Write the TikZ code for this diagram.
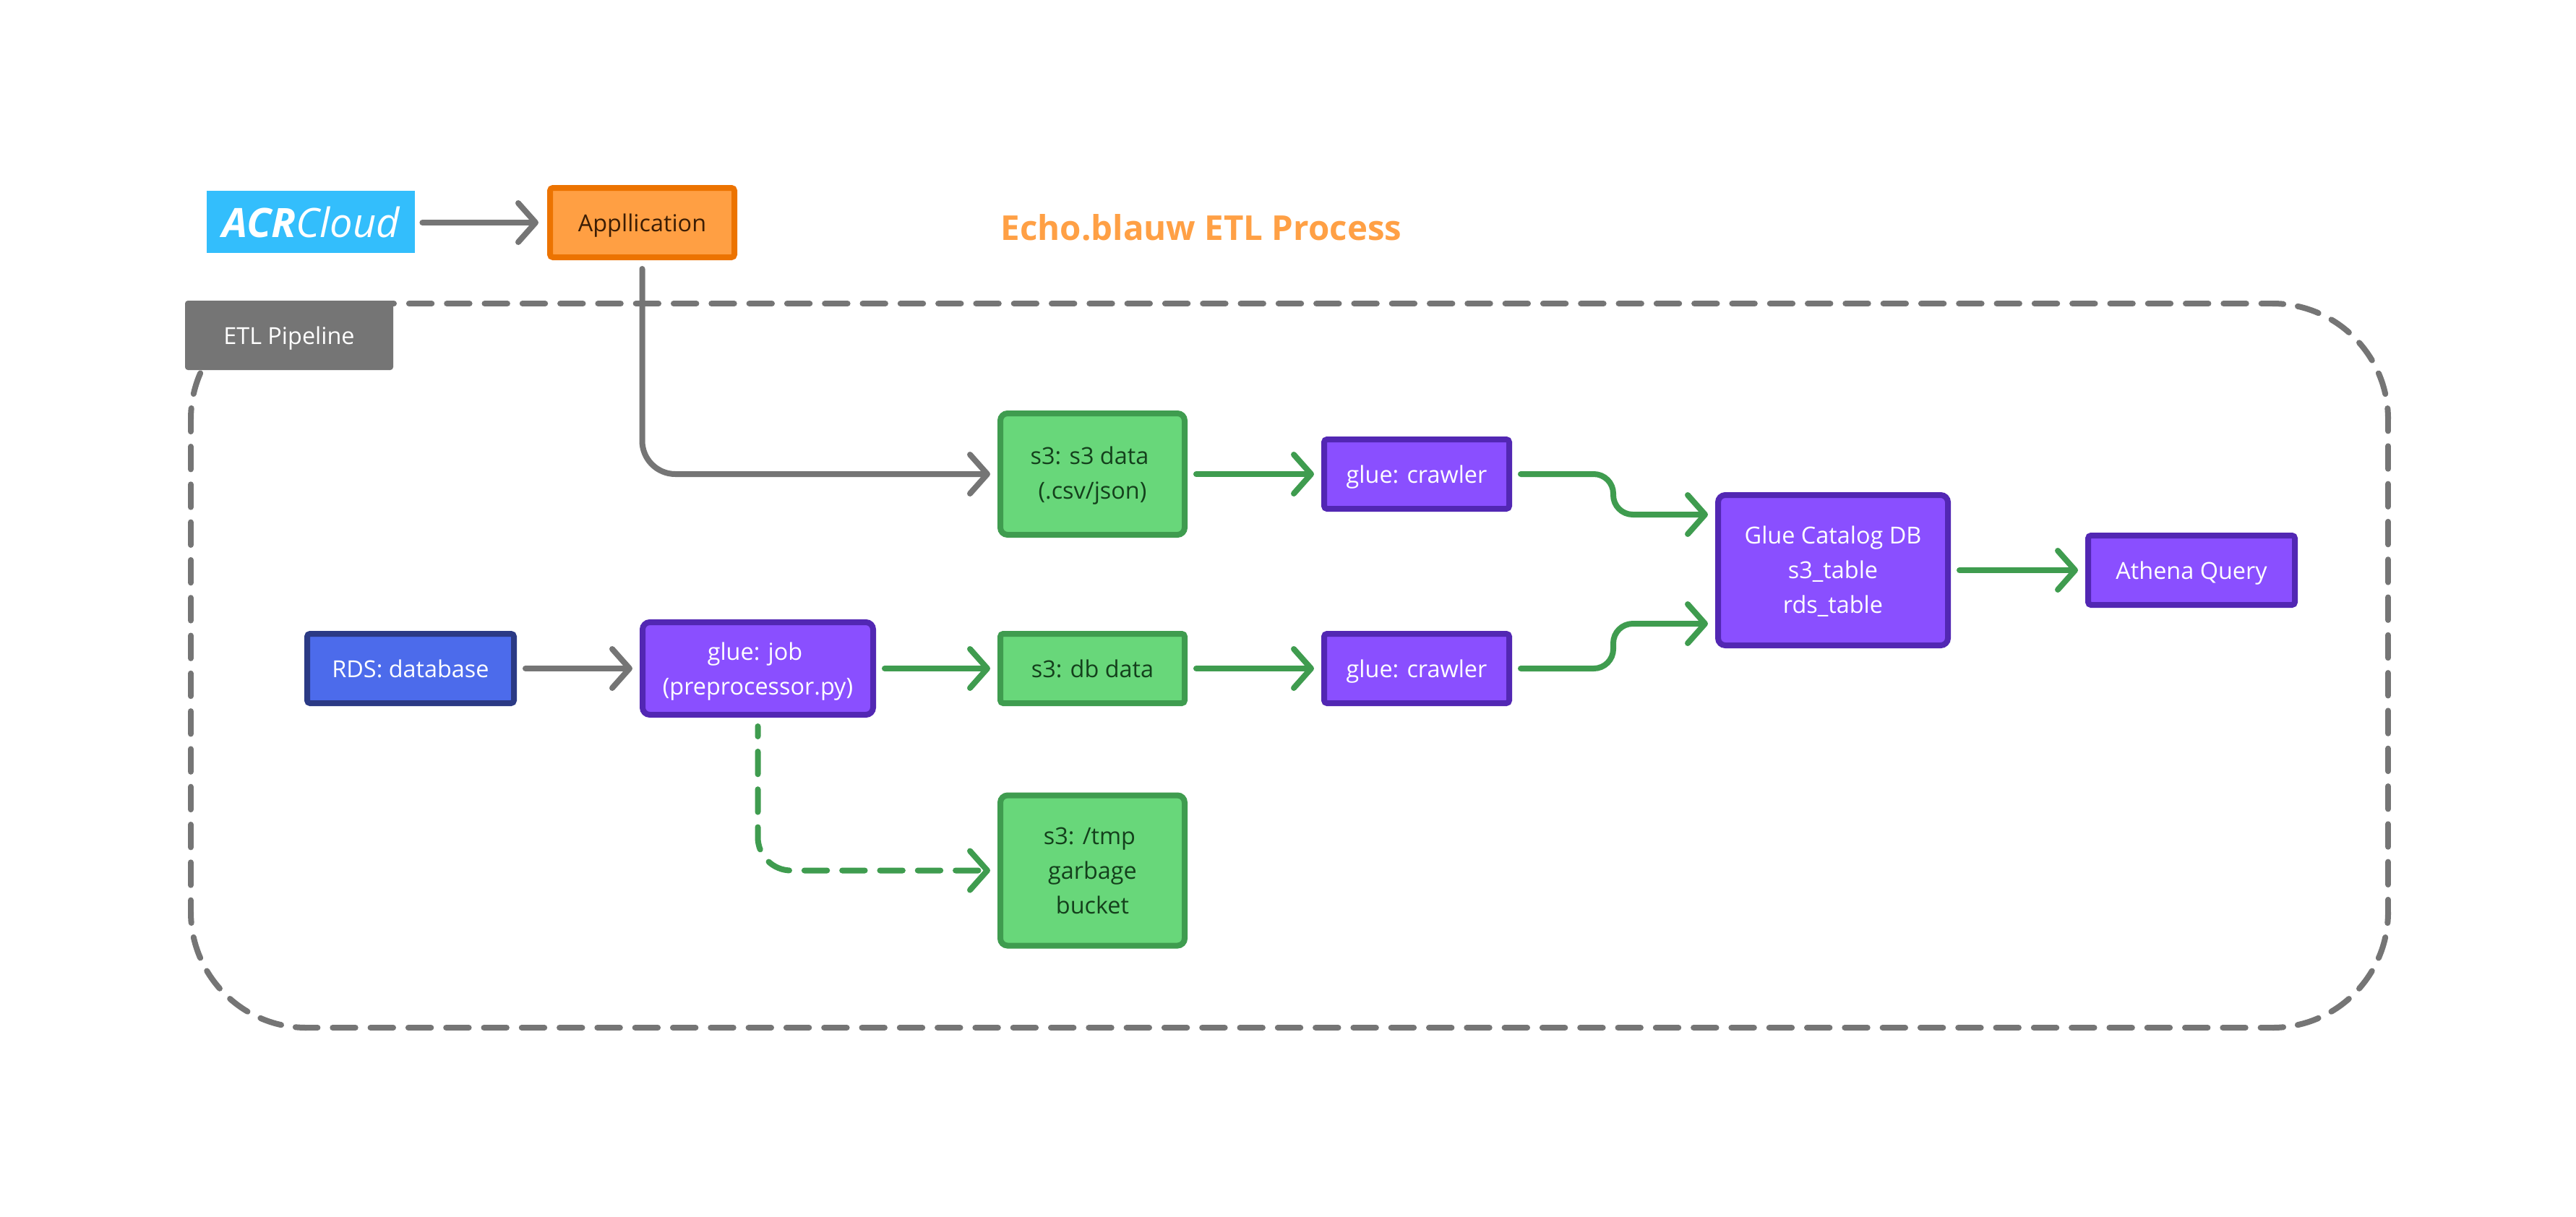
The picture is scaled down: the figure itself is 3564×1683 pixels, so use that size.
\documentclass[tikz,border=0pt]{standalone}
\usepackage{fontspec}
\setmainfont{Open Sans}
\usetikzlibrary{arrows.meta,calc}
\definecolor{gline}{HTML}{757575}
\definecolor{orfill}{HTML}{FF9F43}
\definecolor{orline}{HTML}{EC7300}
\definecolor{ortext}{HTML}{3B1D05}
\definecolor{grfill}{HTML}{68D77A}
\definecolor{grline}{HTML}{3F9C4F}
\definecolor{grtext}{HTML}{14401C}
\definecolor{pufill}{HTML}{8A4FFF}
\definecolor{puline}{HTML}{5227B3}
\definecolor{blfill}{HTML}{4C6BEB}
\definecolor{blline}{HTML}{2B3A85}
\definecolor{logoblue}{HTML}{33BEFC}
\definecolor{titleor}{HTML}{FFA045}
\newcommand{\firstup}{\rule{0pt}{14.3pt}}
\newcommand{\firstupmore}{\rule{0pt}{16.3pt}}
\tikzset{
  boxbase/.style={draw,line width=4pt,outer sep=0pt,inner sep=0pt,align=center,
    rounded corners=2pt,font=\fontsize{16.2}{24}\selectfont},
  bigcorner/.style={rounded corners=5pt},
  oneline/.style={text height=12.6pt,text depth=0pt},
  orbox/.style={boxbase,fill=orfill,draw=orline,text=ortext},
  grbox/.style={boxbase,fill=grfill,draw=grline,text=grtext},
  pubox/.style={boxbase,fill=pufill,draw=puline,text=white},
  blbox/.style={boxbase,fill=blfill,draw=blline,text=white},
  conn/.style={line width=4pt,line cap=round,line join=round,
    -{Straight Barb[round,length=12pt,width=27pt]},shorten <=8pt,shorten >=7pt},
  graylink/.style={conn,draw=gline},
  greenlink/.style={conn,draw=grline},
  sideline/.style={line width=4pt,line cap=round,draw=gline,dash pattern=on 15.7pt off 10.45pt,dash phase=7.5pt},
  arcline/.style={line width=4pt,line cap=round,draw=gline,dash pattern=on 15.08pt off 10.05pt,dash phase=7.5pt},
}
\begin{document}
\begin{tikzpicture}[x=0.5pt,y=-0.5pt]
\useasboundingbox (0,0) rectangle (3564,1683);
\fill[white] (0,0) rectangle (3564,1683);
% container, drawn side by side so that the dashes meet as in the picture
\draw[sideline] (424,420) -- (3144,420);
\draw[arcline] (3144,420) arc[start angle=90,end angle=0,radius=80pt];
\draw[sideline] (3304,580) -- (3304,1262);
\draw[arcline] (3304,1262) arc[start angle=0,end angle=-90,radius=80pt];
\draw[sideline] (3144,1422) -- (424,1422);
\draw[arcline] (424,1422) arc[start angle=-90,end angle=-180,radius=80pt];
\draw[sideline] (264,1262) -- (264,580);
\draw[arcline] (264,580) arc[start angle=180,end angle=90,radius=80pt];
\node[fill=gline,rounded corners=2pt,text=white,minimum width=144pt,minimum height=48pt,
  inner sep=0pt,font=\fontsize{16.2}{24}\selectfont,oneline] (etl) at (400,464) {ETL Pipeline};
% title
\node[text=titleor,inner sep=0pt,font=\fontsize{23.7}{30}\selectfont\bfseries] (title) at (1662,315) {Echo.blauw ETL Process};
% logo
\node[fill=logoblue,text=white,minimum width=144pt,minimum height=43pt,inner sep=0pt,
  font=\fontsize{28}{30}\selectfont\itshape] (logo) at (430,307) {\textbf{ACR}Cloud};
% boxes
\node[orbox,oneline,minimum width=127.5pt,minimum height=48pt] (app) at (888.5,308) {Appllication};
\node[grbox,bigcorner,minimum width=127.5pt,minimum height=84pt] (s3a) at (1511.5,656) {\firstup s3: s3 data\hspace*{4pt}\\(.csv/json)};
\node[pubox,oneline,minimum width=128pt,minimum height=48pt] (cr1) at (1960,656) {glue: crawler};
\node[grbox,oneline,minimum width=127.5pt,minimum height=48pt] (s3b) at (1511.5,925) {s3: db data};
\node[pubox,oneline,minimum width=128pt,minimum height=48pt] (cr2) at (1960,925) {glue: crawler};
\node[grbox,bigcorner,minimum width=127.5pt,minimum height=104pt] (tmp) at (1511.5,1204.5) {s3: /tmp\hspace*{4pt}\\garbage\hspace*{4pt}\\bucket};
\node[pubox,bigcorner,minimum width=159pt,minimum height=104pt] (glue) at (2536,789) {\firstup Glue Catalog DB\\s3\_table\\rds\_table};
\node[pubox,oneline,minimum width=143pt,minimum height=48pt] (ath) at (3032,789) {Athena Query};
\node[blbox,oneline,minimum width=143pt,minimum height=48pt] (rds) at (568,925) {RDS: database};
\node[pubox,bigcorner,minimum width=159.5pt,minimum height=64pt] (job) at (1048.5,925) {\firstupmore glue: job\hspace*{4pt}\\(preprocessor.py)};
% bends
\coordinate (m1) at (2232,684);
\coordinate (g1) at ([yshift=38.5pt]glue.west);
\coordinate (g2) at ([yshift=-37pt]glue.west);
% connectors
\draw[graylink,shorten <=5pt,shorten >=8pt] (logo.east |- app.west) -- (app.west);
\draw[graylink,rounded corners=23pt] (app.south) |- (s3a.west);
\draw[graylink] (rds.east) -- (job.west);
\draw[greenlink] (job.east) -- (s3b.west);
\draw[greenlink] (s3a.east) -- (cr1.west);
\draw[greenlink] (s3b.east) -- (cr2.west);
\draw[greenlink,rounded corners=13.5pt] (cr1.east) -- (m1 |- cr1.east) -- (m1 |- g1) -- (g1);
\draw[greenlink,rounded corners=13.5pt] (cr2.east) -- (m1 |- cr2.east) -- (m1 |- g2) -- (g2);
\draw[greenlink] (glue.east) -- (ath.west);
\draw[greenlink,rounded corners=23pt,dash pattern=on 15.7pt off 10.45pt,dash phase=8.7pt] (job.south) |- (tmp.west);
\end{tikzpicture}
\end{document}
